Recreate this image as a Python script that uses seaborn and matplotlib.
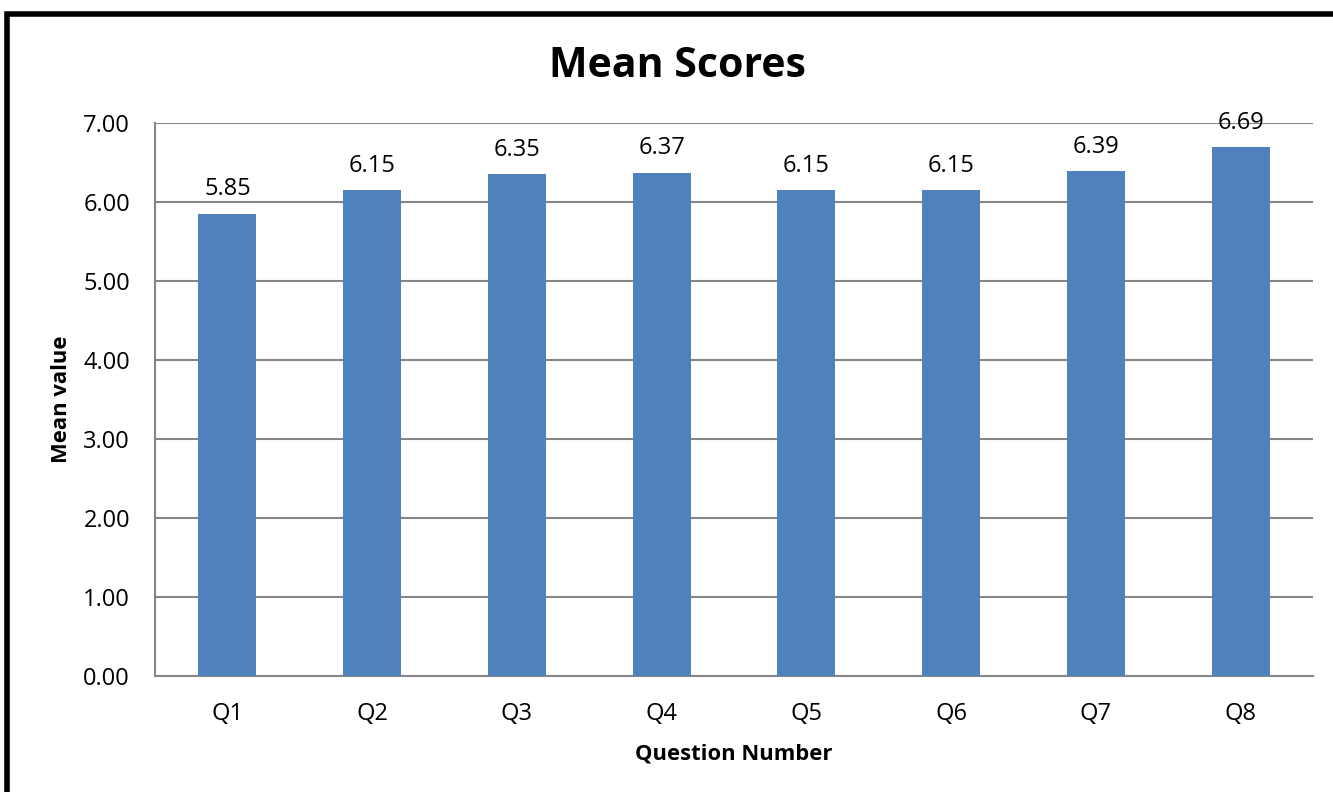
import matplotlib
matplotlib.use('Agg')
import matplotlib.pyplot as plt
import seaborn as sns
import pandas as pd
from matplotlib.patches import Rectangle

# chart values
questions = ['Q1', 'Q2', 'Q3', 'Q4', 'Q5', 'Q6', 'Q7', 'Q8']
mean_scores = [5.85, 6.15, 6.35, 6.37, 6.15, 6.15, 6.39, 6.69]
y_ticks = [0, 1, 2, 3, 4, 5, 6, 7]

df = pd.DataFrame({'Question': questions, 'Mean': mean_scores})

sns.set_theme(style='white')
plt.rcParams['font.family'] = ['Open Sans', 'DejaVu Sans']
plt.rcParams['text.color'] = 'black'

fig = plt.figure(figsize=(13.33, 7.92), dpi=100)
ax = fig.add_axes([0.1163, 0.1465, 0.8687, 0.6982])

sns.barplot(data=df, x='Question', y='Mean', color='#4F81BD', width=0.4,
            saturation=1, linewidth=0, ax=ax, zorder=3)

ax.set_ylim(0, 7)
ax.set_yticks(y_ticks)
ax.set_yticklabels(['%.2f' % v for v in y_ticks])
ax.set_xlim(-0.5, len(questions) - 0.5)
ax.yaxis.grid(True, color='#868686', linewidth=1.5, zorder=0)
ax.tick_params(axis='both', length=0, labelsize=17, colors='black')
ax.tick_params(axis='y', pad=18)
ax.tick_params(axis='x', pad=19)

for s in ['top', 'right']:
    ax.spines[s].set_visible(False)
for s in ['left', 'bottom']:
    ax.spines[s].set_color('#868686')
    ax.spines[s].set_linewidth(1.5)

for i, v in enumerate(mean_scores):
    ax.text(i, v + 0.16, '%.2f' % v, ha='center', va='bottom', fontsize=17, color='black')

ax.set_xlabel('Question Number', fontsize=15.8, fontweight='bold', labelpad=12, color='black')
ax.set_ylabel('Mean value', fontsize=15.8, fontweight='bold', labelpad=8, color='black')
fig.text(0.508, 0.916, 'Mean Scores', ha='center', va='center', fontsize=29.5,
         fontweight='bold', color='black')

# outer chart frame (cut off at right and bottom edge)
fig.patches.append(Rectangle((7 / 1333, -0.05), 1.1, 1 - 14 / 792 + 0.05,
                             transform=fig.transFigure, fill=False,
                             edgecolor='black', linewidth=4))

fig.savefig('out.png', dpi=100)
